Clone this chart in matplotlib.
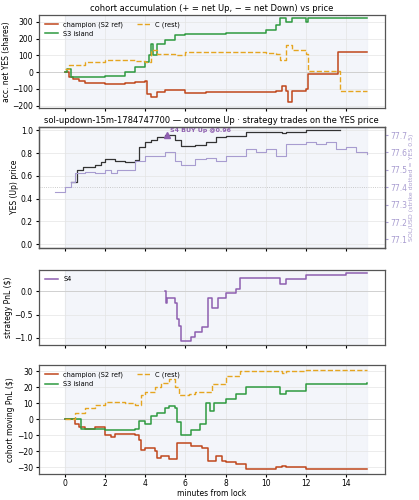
import matplotlib
matplotlib.use("Agg")
import matplotlib.pyplot as plt

# --- data ---
acc_champ_t = [0, 0.2, 0.4, 0.7, 1, 2, 3, 3.5, 4, 4.1, 4.3, 4.6, 5, 5.5, 6, 7, 9, 10.5, 10.8, 11, 11.1, 11.3, 12, 12.1, 13.6, 15]
acc_champ_v = [0, -30, -40, -55, -65, -70, -65, -60, -55, -130, -145, -120, -105, -105, -125, -120, -115, -110, -80, -110, -175, -110, -100, -10, 120, 120]
acc_s3_t = [0, 0.1, 0.3, 1, 2, 3, 3.5, 4, 4.2, 4.3, 4.4, 4.6, 5, 5.5, 6, 7, 8, 10, 10.5, 10.7, 11, 11.3, 12, 12.1, 15]
acc_s3_v = [0, 20, -30, -30, -20, 0, 30, 60, 100, 170, 100, 170, 190, 220, 225, 230, 235, 250, 280, 320, 300, 320, 300, 320, 320]
acc_c_t = [0, 0.2, 1, 2, 3, 3.5, 4, 4.3, 4.6, 5, 5.5, 6, 7, 8, 10, 10.5, 10.7, 11, 11.3, 12, 12.1, 13.7, 15]
acc_c_v = [20, 40, 60, 70, 70, 65, 60, 130, 110, 110, 100, 120, 120, 120, 115, 110, 70, 160, 130, 110, 10, -110, -110]

yes_t = [0.3, 0.6, 0.9, 1.5, 1.8, 2, 2.5, 3, 3.5, 3.7, 4, 4.3, 4.6, 5, 5.5, 5.8, 6.5, 7, 7.5, 8, 9, 10, 10.8, 11, 12, 13.7]
yes_v = [0.55, 0.65, 0.68, 0.7, 0.72, 0.75, 0.73, 0.72, 0.74, 0.85, 0.9, 0.92, 0.94, 0.96, 0.92, 0.86, 0.87, 0.9, 0.94, 0.95, 0.99, 0.99, 0.98, 0.99, 1.0, 1.0]
sol_t = [-0.5, -0.2, 0, 0.3, 0.5, 1, 1.5, 2, 2.3, 2.6, 3, 3.5, 4, 5, 5.3, 5.5, 5.8, 6.5, 7, 7.5, 8, 9, 9.5, 10, 10.5, 11, 12, 12.5, 13, 13.5, 14, 14.5, 15]
sol_v = [77.37, 77.37, 77.4, 77.43, 77.48, 77.49, 77.48, 77.5, 77.48, 77.5, 77.5, 77.55, 77.58, 77.6, 77.6, 77.55, 77.53, 77.56, 77.57, 77.55, 77.58, 77.62, 77.6, 77.62, 77.58, 77.65, 77.66, 77.65, 77.66, 77.62, 77.63, 77.6, 77.59]
buy_t, buy_p = 5.1, 0.96

s4_t = [5, 5.05, 5.1, 5.4, 5.5, 5.6, 5.7, 5.8, 6.3, 6.5, 6.8, 7.1, 7.3, 7.6, 8, 8.5, 8.7, 9, 10, 10.7, 11, 12, 14, 15]
s4_v = [0, -0.25, -0.15, -0.15, -0.25, -0.6, -0.75, -1.07, -0.97, -0.87, -0.77, -0.15, -0.35, -0.15, -0.05, 0.05, 0.28, 0.28, 0.28, 0.15, 0.25, 0.35, 0.38, 0.38]

pnl_champ_t = [0, 0.5, 0.7, 1, 1.5, 2, 2.3, 2.5, 3, 3.5, 3.7, 3.8, 4, 4.5, 4.6, 4.8, 5.2, 5.6, 6.3, 6.8, 7.1, 7.5, 7.8, 8, 8.5, 9, 10.5, 10.8, 11, 12, 15]
pnl_champ_v = [0, -3, -5, -6, -5, -10, -11, -9, -9, -10, -13, -19, -18, -20, -24, -23, -25, -15, -17, -18, -26, -23, -26, -27, -28, -31, -30, -29, -30, -31, -31]
pnl_s3_t = [0, 0.8, 1.5, 2, 3, 3.5, 3.7, 4, 4.3, 4.6, 5, 5.2, 5.5, 5.6, 5.8, 6.3, 6.7, 7, 7.2, 7.4, 8, 8.5, 9, 10.5, 10.7, 11, 12, 15]
pnl_s3_v = [0, -6, -6, -7, -7, -6, -1, -3, 2, 4, 7, 8, 7, -2, -10, -7, -3, 10, 5, 10, 13, 16, 20, 20, 16, 18, 22, 23]
pnl_c_t = [0, 0.5, 1, 1.5, 2, 3, 3.5, 3.8, 4, 4.5, 4.8, 5.2, 5.5, 5.7, 6.2, 6.5, 7, 7.3, 8, 8.7, 10.5, 10.8, 11, 12, 15]
pnl_c_v = [0, 4, 7, 9, 11, 10, 9, 15, 17, 20, 23, 25, 20, 15, 16, 17, 17, 22, 27, 30, 30, 29, 30, 31, 31]

RED, GREEN, GOLD, PURPLE = "#c0471c", "#2e9a40", "#e5a520", "#8e5fb0"

plt.rcParams.update({"font.size": 5.5, "axes.edgecolor": "#555555", "axes.linewidth": 0.9})
fig = plt.figure(figsize=(4.19, 5.0), dpi=100)
L, W = 0.092, 0.826
ax1 = fig.add_axes([L, 0.785, W, 0.185])
ax2 = fig.add_axes([L, 0.505, W, 0.241])
ax3 = fig.add_axes([L, 0.31, W, 0.15])
ax4 = fig.add_axes([L, 0.053, W, 0.217])

for ax in (ax1, ax2, ax3, ax4):
    ax.set_xlim(-1.3, 15.9)
    ax.axvspan(0, 15, color="#eef1f8", alpha=0.7, zorder=0)
    ax.grid(True, color="#e4e4e4", linewidth=0.5)
    ax.set_axisbelow(True)
    ax.set_xticks(range(0, 15, 2))
    ax.tick_params(length=2.5, pad=1.5)
for ax in (ax1, ax2, ax3):
    ax.set_xticklabels([])

# panel 1
ax1.axhline(0, color="#cccccc", lw=0.6)
ax1.step(acc_champ_t, acc_champ_v, where="post", color=RED, lw=1.1, label="champion (S2 ref)")
ax1.step(acc_s3_t, acc_s3_v, where="post", color=GREEN, lw=1.1, label="S3 island")
ax1.step(acc_c_t, acc_c_v, where="post", color=GOLD, lw=1.0, ls="--", label="C (rest)")
ax1.set_ylim(-210, 340)
ax1.set_ylabel("acc. net YES (shares)", labelpad=1)
ax1.set_title("cohort accumulation (+ = net Up, − = net Down) vs price", fontsize=6, pad=3)
ax1.legend(loc="upper left", ncol=2, fontsize=4.8, frameon=False)

# panel 2
ax2.axhline(0.5, color="#bbbbbb", lw=0.6, ls=":")
ax2.step(yes_t, yes_v, where="post", color="#333333", lw=0.9)
ax2.plot(buy_t, buy_p, marker="^", color=PURPLE, ms=5)
ax2.annotate("S4 BUY Up @0.96", (buy_t, buy_p), xytext=(2, 2), textcoords="offset points",
             color=PURPLE, fontsize=4.5, fontweight="bold")
ax2.set_ylim(-0.03, 1.03)
ax2.set_ylabel("YES (Up) price", labelpad=1)
ax2.set_title("sol-updown-15m-1784747700 — outcome Up · strategy trades on the YES price", fontsize=6, pad=3)
ax2r = ax2.twinx()
ax2r.step(sol_t, sol_v, where="post", color="#a89cd0", lw=0.8)
ax2r.set_ylim(77.054, 77.746)
ax2r.set_yticks([77.1, 77.2, 77.3, 77.4, 77.5, 77.6, 77.7])
ax2r.tick_params(colors="#a89cd0", labelsize=5.5, length=2.5, pad=1.5)
ax2r.set_ylabel("SOL/USD (strike dotted = YES 0.5)", color="#a89cd0", fontsize=4.5, labelpad=1)

# panel 3
ax3.axhline(0, color="#cccccc", lw=0.6)
ax3.step(s4_t, s4_v, where="post", color=PURPLE, lw=1.1, label="S4")
ax3.set_ylim(-1.15, 0.45)
ax3.set_ylabel("strategy PnL ($)", labelpad=1)
ax3.legend(loc="upper left", fontsize=4.8, frameon=False)

# panel 4
ax4.axhline(0, color="#cccccc", lw=0.6)
ax4.step(pnl_champ_t, pnl_champ_v, where="post", color=RED, lw=1.1, label="champion (S2 ref)")
ax4.step(pnl_s3_t, pnl_s3_v, where="post", color=GREEN, lw=1.1, label="S3 island")
ax4.step(pnl_c_t, pnl_c_v, where="post", color=GOLD, lw=1.0, ls="--", label="C (rest)")
ax4.set_ylim(-34, 34)
ax4.set_ylabel("cohort moving PnL ($)", labelpad=1)
ax4.set_xlabel("minutes from lock", labelpad=1)
ax4.legend(loc="upper left", ncol=2, fontsize=4.8, frameon=False)

fig.savefig("out.png", dpi=100)
